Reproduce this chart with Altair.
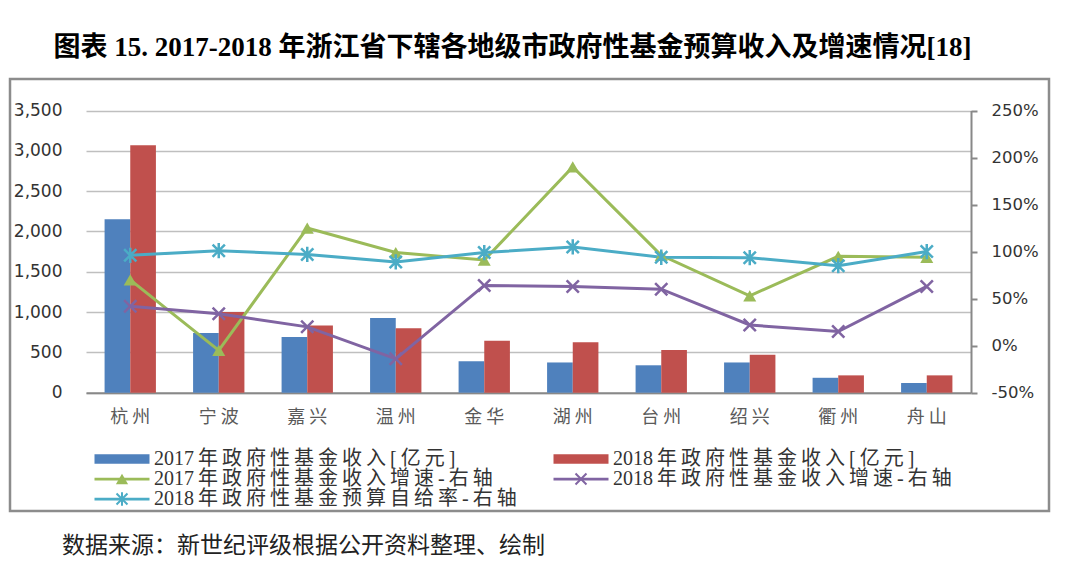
import altair as alt
import pandas as pd

# ---------------- data ----------------
cities = ["杭州", "宁波", "嘉兴", "温州", "金华", "湖州", "台州", "绍兴", "衢州", "舟山"]
rev2017 = [2150, 740, 690, 925, 390, 375, 340, 375, 185, 120]
rev2018 = [3070, 1000, 835, 800, 645, 625, 530, 470, 215, 215]
growth2017 = [0.70, -0.05, 1.25, 0.99, 0.91, 1.90, 0.96, 0.53, 0.95, 0.94]
growth2018 = [0.42, 0.34, 0.20, -0.14, 0.64, 0.63, 0.60, 0.22, 0.15, 0.63]
selfsuff2018 = [0.96, 1.01, 0.97, 0.89, 0.99, 1.05, 0.94, 0.935, 0.85, 1.00]

S_BAR17 = "2017年政府性基金收入[亿元]"
S_BAR18 = "2018年政府性基金收入[亿元]"
S_G17 = "2017年政府性基金收入增速-右轴"
S_G18 = "2018年政府性基金收入增速-右轴"
S_SELF = "2018年政府性基金预算自给率-右轴"
series_order = [S_BAR17, S_BAR18, S_G17, S_G18, S_SELF]
series_kind = ["bar", "bar", "line", "line", "line"]
colors = ["#4F81BD", "#C0504D", "#9BBB59", "#8064A2", "#4BACC6"]

TITLE = "图表 15. 2017-2018 年浙江省下辖各地级市政府性基金预算收入及增速情况[18]"
SOURCE = "数据来源：新世纪评级根据公开资料整理、绘制"

left_ticks = [0, 500, 1000, 1500, 2000, 2500, 3000, 3500]
right_ticks = [-0.5, 0.0, 0.5, 1.0, 1.5, 2.0, 2.5]


def spaced(s):
    out = ""
    for i, c in enumerate(s):
        out += c
        if i < len(s) - 1 and not (c.isdigit() and s[i + 1].isdigit()):
            out += "\u2009"
    return out


bar_df = pd.DataFrame({
    "city": cities * 2,
    "series": [S_BAR17] * len(cities) + [S_BAR18] * len(cities),
    "value": rev2017 + rev2018,
})
line_df = pd.DataFrame({
    "city": cities * 3,
    "series": [S_G17] * len(cities) + [S_G18] * len(cities) + [S_SELF] * len(cities),
    "value": growth2017 + growth2018 + selfsuff2018,
})
legend_df = pd.DataFrame({
    "series": series_order,
    "kind": series_kind,
    "label": [spaced(s) for s in series_order],
})

# ---------------- layout ----------------
W, H = 1039, 432
X_RANGE = [76, 961]
Y0, Y1 = 313.7, 31.5
Y_RANGE = [Y0, Y1]

X_PATH = "M-1,-1L1,1M1,-1L-1,1"
STAR_PATH = "M-1,-1L1,1M1,-1L-1,1M0,-1.25L0,1.25"
RECT_PATH = "M-1,-0.17H1V0.17H-1Z"
LINE_PATH = "M-1,-0.05H1V0.05H-1Z"

NUM_FONT = "DejaVu Sans"
CJK_FONT = "Noto Sans CJK SC"
MIX_FONT = "Liberation Serif, Noto Sans CJK SC"

color = alt.Color("series:N", scale=alt.Scale(domain=series_order, range=colors), legend=None)
shape = alt.Shape("series:N", scale=alt.Scale(domain=[S_G18, S_SELF], range=[X_PATH, STAR_PATH]), legend=None)

x = alt.X(
    "city:N", sort=cities,
    scale=alt.Scale(range=X_RANGE, paddingInner=0.42, paddingOuter=0.21),
    axis=alt.Axis(
        title=None, orient="bottom", offset=-(H - Y0), domainColor="#888888", domainWidth=2,
        ticks=False, tickSize=0, labelPadding=16, labelAngle=0, labelFont=CJK_FONT,
        labelFontSize=18, labelColor="#5A5A5A",
        labelExpr="substring(datum.label, 0, 1) + ' ' + substring(datum.label, 1)",
    ),
)
y_left = alt.Y(
    "value:Q",
    scale=alt.Scale(domain=[0, 3500], range=Y_RANGE, nice=False, zero=True),
    axis=alt.Axis(
        title=None, orient="left", values=left_ticks, format=",.0f", domain=False, ticks=False,
        tickSize=0, labelPadding=0, offset=-52, grid=True, gridColor="#BFBFBF", gridWidth=1.5,
        labelFont=NUM_FONT, labelFontSize=17, labelColor="#333333",
    ),
)
y_right = alt.Y(
    "value:Q",
    scale=alt.Scale(domain=[-0.5, 2.5], range=Y_RANGE, nice=False, zero=False),
    axis=alt.Axis(
        title=None, orient="right", values=right_ticks, format=".0%",
        labelExpr="replace(datum.label, '\u2212', '-')",
        domainColor="#888888", domainWidth=2, tickColor="#888888", tickWidth=2, tickSize=6,
        labelPadding=14, offset=-(W - X_RANGE[1]), grid=False,
        labelFont=NUM_FONT, labelFontSize=16.5, labelColor="#333333",
    ),
)

bars = alt.Chart(bar_df).mark_bar().encode(
    x=x,
    xOffset=alt.XOffset("series:N", sort=[S_BAR17, S_BAR18], scale=alt.Scale(paddingInner=0, paddingOuter=0)),
    y=y_left,
    color=color,
)

line = alt.Chart(line_df).mark_line(strokeWidth=3).encode(x=x, y=y_right, color=color)
tri = alt.Chart(line_df).transform_filter(alt.datum.series == S_G17).mark_point(
    shape="triangle-up", filled=True, size=170, opacity=1
).encode(x=x, y=y_right, color=color)
xs = alt.Chart(line_df).transform_filter(alt.datum.series != S_G17).mark_point(
    filled=False, size=150, strokeWidth=2.5, opacity=1
).encode(x=x, y=y_right, color=color, shape=shape)

main = alt.layer(bars, alt.layer(line, tri, xs)).resolve_scale(y="independent")

# ---------------- legend (inside frame) ----------------
leg_base = alt.Chart(legend_df).transform_window(idx="row_number()").transform_calculate(
    col="(datum.idx - 1) % 2", row="floor((datum.idx - 1) / 2)"
)
lx = alt.X("col:Q", scale=alt.Scale(domain=[0, 1], range=[112, 571]), axis=None)
ly = alt.Y("row:Q", scale=alt.Scale(domain=[0, 2], range=[380, 420]), axis=None)

leg_bar = leg_base.transform_filter(alt.datum.kind == "bar").mark_point(
    shape=RECT_PATH, filled=True, size=3025, opacity=1
).encode(x=lx, y=ly, color=color)
leg_line = leg_base.transform_filter(alt.datum.kind == "line").mark_point(
    shape=LINE_PATH, filled=True, size=3025, opacity=1
).encode(x=lx, y=ly, color=color)
leg_tri = leg_base.transform_filter(alt.datum.series == S_G17).mark_point(
    shape="triangle-up", filled=True, size=150, opacity=1
).encode(x=lx, y=ly, color=color)
leg_xs = leg_base.transform_filter(
    (alt.datum.series == S_G18) | (alt.datum.series == S_SELF)
).mark_point(filled=False, size=120, strokeWidth=2, opacity=1).encode(x=lx, y=ly, color=color, shape=shape)
leg_text = leg_base.mark_text(
    align="left", baseline="middle", dx=32, font=MIX_FONT, fontSize=20, color="#333333"
).encode(x=lx, y=ly, text="label:N")

legend = alt.layer(leg_bar, leg_line, leg_tri, leg_xs, leg_text)

frame = alt.layer(main, legend).resolve_scale(x="independent", y="independent").properties(
    width=W, height=H,
    title=alt.TitleParams(
        SOURCE, orient="bottom", anchor="start", dx=52, offset=24, font=CJK_FONT,
        fontSize=23, fontWeight="normal", color="#222222",
    ),
)

chart = alt.vconcat(frame).properties(
    title=alt.TitleParams(
        TITLE, anchor="middle", dx=-17, offset=16, font=MIX_FONT, fontSize=27,
        fontWeight="bold", color="#000000",
    ),
    padding={"left": 0, "top": 25, "right": 0, "bottom": 0},
).configure_view(stroke="#8C8C8C", strokeWidth=2.5)

chart.save("out.html", embed_options={"renderer": "svg", "actions": False})
